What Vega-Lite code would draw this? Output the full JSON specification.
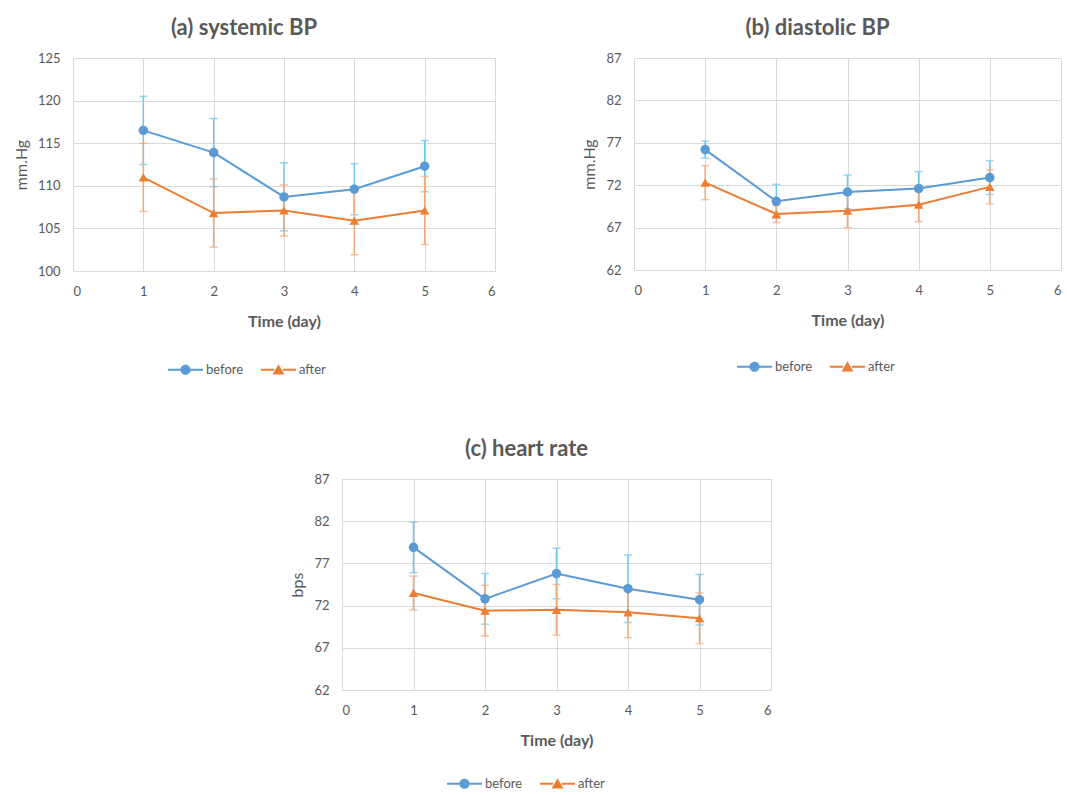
{
  "$schema": "https://vega.github.io/schema/vega-lite/v6.json",
  "padding": {"left": 13, "top": 17, "right": 5, "bottom": 5},
  "config": {
    "font": "Lato",
    "view": {"stroke": null},
    "axis": {"labelFont": "Lato", "labelFontSize": 13, "labelColor": "#595959", "titleFont": "Lato", "titleColor": "#595959", "gridColor": "#d9d9d9", "domainColor": "#d9d9d9", "ticks": false, "tickSize": 0},
    "title": {"font": "Lato", "fontSize": 22, "fontWeight": "bold", "color": "#595959"}
  },
  "data": {"values": [
    {"panel": "a", "series": "before", "day": 1, "value": 116.5, "sd": 4},
    {"panel": "a", "series": "before", "day": 2, "value": 113.9, "sd": 4},
    {"panel": "a", "series": "before", "day": 3, "value": 108.7, "sd": 4},
    {"panel": "a", "series": "before", "day": 4, "value": 109.6, "sd": 3},
    {"panel": "a", "series": "before", "day": 5, "value": 112.3, "sd": 3},
    {"panel": "a", "series": "after", "day": 1, "value": 111.0, "sd": 4},
    {"panel": "a", "series": "after", "day": 2, "value": 106.8, "sd": 4},
    {"panel": "a", "series": "after", "day": 3, "value": 107.1, "sd": 3},
    {"panel": "a", "series": "after", "day": 4, "value": 105.9, "sd": 4},
    {"panel": "a", "series": "after", "day": 5, "value": 107.1, "sd": 4},
    {"panel": "b", "series": "before", "day": 1, "value": 76.2, "sd": 1},
    {"panel": "b", "series": "before", "day": 2, "value": 70.1, "sd": 2},
    {"panel": "b", "series": "before", "day": 3, "value": 71.2, "sd": 2},
    {"panel": "b", "series": "before", "day": 4, "value": 71.6, "sd": 2},
    {"panel": "b", "series": "before", "day": 5, "value": 72.9, "sd": 2},
    {"panel": "b", "series": "after", "day": 1, "value": 72.3, "sd": 2},
    {"panel": "b", "series": "after", "day": 2, "value": 68.6, "sd": 1},
    {"panel": "b", "series": "after", "day": 3, "value": 69.0, "sd": 2},
    {"panel": "b", "series": "after", "day": 4, "value": 69.7, "sd": 2},
    {"panel": "b", "series": "after", "day": 5, "value": 71.8, "sd": 2},
    {"panel": "c", "series": "before", "day": 1, "value": 78.9, "sd": 3},
    {"panel": "c", "series": "before", "day": 2, "value": 72.8, "sd": 3},
    {"panel": "c", "series": "before", "day": 3, "value": 75.8, "sd": 3},
    {"panel": "c", "series": "before", "day": 4, "value": 74.0, "sd": 4},
    {"panel": "c", "series": "before", "day": 5, "value": 72.7, "sd": 3},
    {"panel": "c", "series": "after", "day": 1, "value": 73.5, "sd": 2},
    {"panel": "c", "series": "after", "day": 2, "value": 71.4, "sd": 3},
    {"panel": "c", "series": "after", "day": 3, "value": 71.5, "sd": 3},
    {"panel": "c", "series": "after", "day": 4, "value": 71.2, "sd": 3},
    {"panel": "c", "series": "after", "day": 5, "value": 70.5, "sd": 3}
  ]},
  "bounds": "flush",
  "spacing": 421,
  "resolve": {"scale": {"color": "independent"}, "legend": {"color": "independent"}},
  "vconcat": [
    {
      "bounds": "flush",
      "spacing": 139,
      "resolve": {"scale": {"color": "independent"}, "legend": {"color": "independent"}},
      "hconcat": [
        {
          "width": 422, "height": 213,
          "title": {"text": "(a) systemic BP", "dx": -40, "offset": 12},
          "transform": [{"filter": "datum.panel === 'a'"}],
          "encoding": {
            "x": {"field": "day", "type": "quantitative", "scale": {"domain": [0, 6], "nice": false}, "axis": {"values": [0, 1, 2, 3, 4, 5, 6], "title": "Time (day)", "labelPadding": 14, "titlePadding": 15, "titleFontSize": 16, "titleFontWeight": "bold"}},
            "y": {"field": "value", "type": "quantitative", "scale": {"domain": [100, 125], "nice": false, "zero": false}, "axis": {"values": [100, 105, 110, 115, 120, 125], "title": "mm.Hg", "labelPadding": 13, "titlePadding": 8, "titleFontSize": 16, "titleFontWeight": "normal"}},
            "color": {"field": "series", "type": "nominal", "scale": {"domain": ["before", "after"], "range": ["#5b9bd5", "#ed7d31"]},
              "legend": {"orient": "none", "legendX": 95, "legendY": 294, "direction": "horizontal", "title": null, "symbolSize": 1225, "labelOffset": 3, "columnPadding": 17, "labelFontSize": 13, "labelColor": "#595959", "labelFont": "Lato", "symbolStrokeWidth": 0,
                "encode": {"symbols": {"update": {"shape": {"signal": "datum.value === 'before' ? 'M-1,-0.06H-0.25V0.06H-1Z M0.25,-0.06H1V0.06H0.25Z M0.29,0A0.29,0.29,0,1,1,-0.29,0A0.29,0.29,0,1,1,0.29,0Z' : 'M-1,-0.06H-0.25V0.06H-1Z M0.25,-0.06H1V0.06H0.25Z M0,-0.32L0.34,0.27L-0.34,0.27Z'"}, "fill": {"signal": "datum.value === 'before' ? '#5b9bd5' : '#ed7d31'"}, "size": {"value": 1225}, "strokeWidth": {"value": 0}, "opacity": {"value": 1}}}}}}
          },
          "layer": [
            {"transform": [{"filter": "datum.series === 'before'"}], "mark": {"type": "errorbar", "ticks": {"size": 8}, "thickness": 1.5}, "encoding": {"yError": {"field": "sd"}, "color": {"value": "#6cc8f0"}}},
            {"transform": [{"filter": "datum.series === 'after'"}], "mark": {"type": "errorbar", "ticks": {"size": 8}, "thickness": 1.5}, "encoding": {"yError": {"field": "sd"}, "color": {"value": "#f4a878"}}},
            {"mark": {"type": "line", "strokeWidth": 2}},
            {"mark": {"type": "point", "filled": true, "opacity": 1, "size": 90}, "encoding": {"shape": {"condition": {"test": "datum.series === 'before'", "value": "circle"}, "value": "triangle-up"}}}
          ]
        },
        {
          "width": 427, "height": 212,
          "title": {"text": "(b) diastolic BP", "dx": -30, "offset": 12},
          "transform": [{"filter": "datum.panel === 'b'"}],
          "encoding": {
            "x": {"field": "day", "type": "quantitative", "scale": {"domain": [0, 6], "nice": false}, "axis": {"values": [0, 1, 2, 3, 4, 5, 6], "title": "Time (day)", "labelPadding": 14, "titlePadding": 15, "titleFontSize": 16, "titleFontWeight": "bold"}},
            "y": {"field": "value", "type": "quantitative", "scale": {"domain": [62, 87], "nice": false, "zero": false}, "axis": {"values": [62, 67, 72, 77, 82, 87], "title": "mm.Hg", "labelPadding": 13, "titlePadding": 8, "titleFontSize": 16, "titleFontWeight": "normal"}},
            "color": {"field": "series", "type": "nominal", "scale": {"domain": ["before", "after"], "range": ["#5b9bd5", "#ed7d31"]},
              "legend": {"orient": "none", "legendX": 103, "legendY": 291, "direction": "horizontal", "title": null, "symbolSize": 1225, "labelOffset": 3, "columnPadding": 17, "labelFontSize": 13, "labelColor": "#595959", "labelFont": "Lato", "symbolStrokeWidth": 0,
                "encode": {"symbols": {"update": {"shape": {"signal": "datum.value === 'before' ? 'M-1,-0.06H-0.25V0.06H-1Z M0.25,-0.06H1V0.06H0.25Z M0.29,0A0.29,0.29,0,1,1,-0.29,0A0.29,0.29,0,1,1,0.29,0Z' : 'M-1,-0.06H-0.25V0.06H-1Z M0.25,-0.06H1V0.06H0.25Z M0,-0.32L0.34,0.27L-0.34,0.27Z'"}, "fill": {"signal": "datum.value === 'before' ? '#5b9bd5' : '#ed7d31'"}, "size": {"value": 1225}, "strokeWidth": {"value": 0}, "opacity": {"value": 1}}}}}}
          },
          "layer": [
            {"transform": [{"filter": "datum.series === 'before'"}], "mark": {"type": "errorbar", "ticks": {"size": 8}, "thickness": 1.5}, "encoding": {"yError": {"field": "sd"}, "color": {"value": "#6cc8f0"}}},
            {"transform": [{"filter": "datum.series === 'after'"}], "mark": {"type": "errorbar", "ticks": {"size": 8}, "thickness": 1.5}, "encoding": {"yError": {"field": "sd"}, "color": {"value": "#f4a878"}}},
            {"mark": {"type": "line", "strokeWidth": 2}},
            {"mark": {"type": "point", "filled": true, "opacity": 1, "size": 90}, "encoding": {"shape": {"condition": {"test": "datum.series === 'before'", "value": "circle"}, "value": "triangle-up"}}}
          ]
        }
      ]
    },
    {
      "bounds": "flush",
      "spacing": 10,
      "resolve": {"scale": {"color": "independent"}, "legend": {"color": "independent"}},
      "hconcat": [
        {"width": 259, "height": 211, "data": {"values": []}, "mark": "rect"},
        {
          "width": 429, "height": 211,
          "title": {"text": "(c) heart rate", "dx": -30, "offset": 12},
          "transform": [{"filter": "datum.panel === 'c'"}],
          "encoding": {
            "x": {"field": "day", "type": "quantitative", "scale": {"domain": [0, 6], "nice": false}, "axis": {"values": [0, 1, 2, 3, 4, 5, 6], "title": "Time (day)", "labelPadding": 14, "titlePadding": 15, "titleFontSize": 16, "titleFontWeight": "bold"}},
            "y": {"field": "value", "type": "quantitative", "scale": {"domain": [62, 87], "nice": false, "zero": false}, "axis": {"values": [62, 67, 72, 77, 82, 87], "title": "bps", "labelPadding": 13, "titlePadding": 8, "titleFontSize": 16, "titleFontWeight": "normal"}},
            "color": {"field": "series", "type": "nominal", "scale": {"domain": ["before", "after"], "range": ["#5b9bd5", "#ed7d31"]},
              "legend": {"orient": "none", "legendX": 105, "legendY": 287, "direction": "horizontal", "title": null, "symbolSize": 1225, "labelOffset": 3, "columnPadding": 17, "labelFontSize": 13, "labelColor": "#595959", "labelFont": "Lato", "symbolStrokeWidth": 0,
                "encode": {"symbols": {"update": {"shape": {"signal": "datum.value === 'before' ? 'M-1,-0.06H-0.25V0.06H-1Z M0.25,-0.06H1V0.06H0.25Z M0.29,0A0.29,0.29,0,1,1,-0.29,0A0.29,0.29,0,1,1,0.29,0Z' : 'M-1,-0.06H-0.25V0.06H-1Z M0.25,-0.06H1V0.06H0.25Z M0,-0.32L0.34,0.27L-0.34,0.27Z'"}, "fill": {"signal": "datum.value === 'before' ? '#5b9bd5' : '#ed7d31'"}, "size": {"value": 1225}, "strokeWidth": {"value": 0}, "opacity": {"value": 1}}}}}}
          },
          "layer": [
            {"transform": [{"filter": "datum.series === 'before'"}], "mark": {"type": "errorbar", "ticks": {"size": 8}, "thickness": 1.5}, "encoding": {"yError": {"field": "sd"}, "color": {"value": "#6cc8f0"}}},
            {"transform": [{"filter": "datum.series === 'after'"}], "mark": {"type": "errorbar", "ticks": {"size": 8}, "thickness": 1.5}, "encoding": {"yError": {"field": "sd"}, "color": {"value": "#f4a878"}}},
            {"mark": {"type": "line", "strokeWidth": 2}},
            {"mark": {"type": "point", "filled": true, "opacity": 1, "size": 90}, "encoding": {"shape": {"condition": {"test": "datum.series === 'before'", "value": "circle"}, "value": "triangle-up"}}}
          ]
        }
      ]
    }
  ]
}
